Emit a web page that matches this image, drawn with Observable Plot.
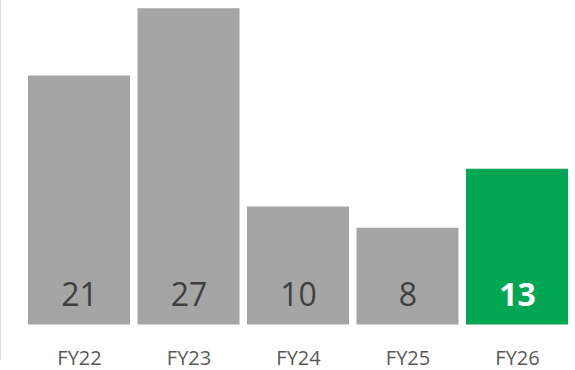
<!DOCTYPE html>
<html><head><meta charset="utf-8">
<script src="https://cdn.jsdelivr.net/npm/d3@7"></script>
<script src="https://cdn.jsdelivr.net/npm/@observablehq/plot@0.6"></script>
<style>
body{margin:0;background:#fff;}
#chart{position:relative;width:575px;height:370px;}
#chart::before{content:"";position:absolute;left:0;top:0;width:1px;height:360px;background:#d9d9d9;}
</style></head><body><div id="chart"></div>
<script>
const categories = ["FY22","FY23","FY24","FY25","FY26"];
const values = [21.1, 26.8, 10.0, 8.2, 13.2];
const labels = ["21","27","10","8","13"];
const highlight = "FY26";
const baseColor = "#a5a5a5";
const highlightColor = "#00a651";

const data = categories.map((c,i)=>({category:c, value:values[i], label:labels[i]}));
const isHi = d => d.category === highlight;

const plot = Plot.plot({
  width:575, height:370,
  marginLeft:28, marginRight:7, marginTop:0, marginBottom:45.5,
  style:{fontFamily:"'Open Sans', sans-serif", background:"transparent"},
  x:{domain:categories, paddingInner:0.0685, paddingOuter:0, round:false, label:null},
  y:{domain:[0,27.5], axis:null},
  color:{type:"identity"},
  marks:[
    Plot.barY(data, {x:"category", y:"value", fill:d => isHi(d) ? highlightColor : baseColor}),
    Plot.text(data.filter(d=>!isHi(d)), {x:"category", y:0, text:"label", dy:-19, lineAnchor:"bottom", fontSize:32, fill:"#404040"}),
    Plot.text(data.filter(isHi), {x:"category", y:0, text:"label", dy:-19, lineAnchor:"bottom", fontSize:32, fontWeight:"bold", fill:"#ffffff"}),
    Plot.axisX({tickSize:0, tickPadding:26, fontSize:20, fill:"#595959", label:null})
  ]
});
document.getElementById("chart").appendChild(plot);
</script></body></html>
